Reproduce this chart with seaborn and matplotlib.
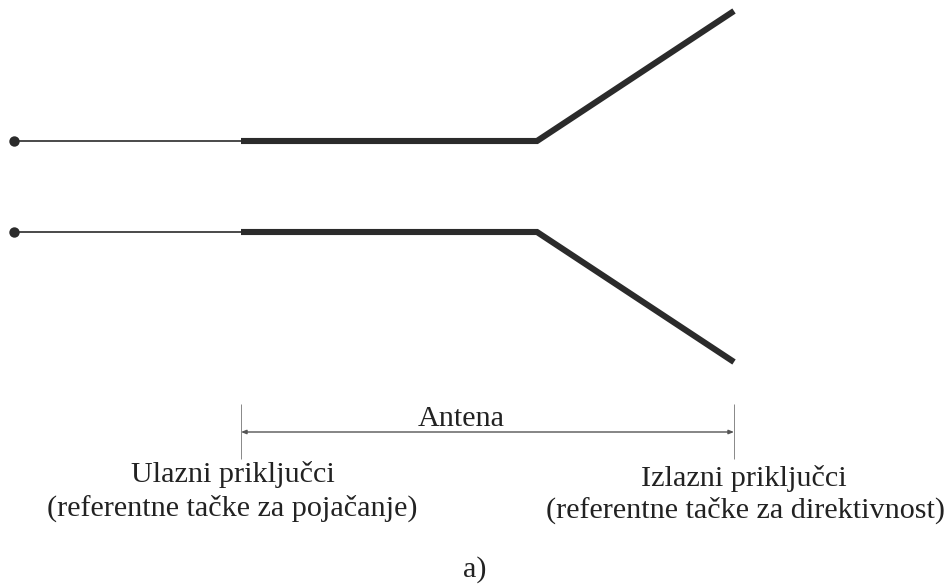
import matplotlib
matplotlib.use("Agg")
import matplotlib.pyplot as plt
import pandas as pd
import seaborn as sns

# Diagram geometry (pixel coordinates of the reference)
lead_x = [14, 241]
upper_y = [141, 141]
lower_y = [232, 232]
upper_arm_x = [241, 537, 734]
upper_arm_y = [141, 141, 11]
lower_arm_x = [241, 537, 734]
lower_arm_y = [232, 232, 362]
terminal_x = [14, 14]
terminal_y = [141, 232]
bracket_left_x = [241, 241]
bracket_right_x = [734, 734]
bracket_y = [404, 459]
dimension_x = [241, 734]
dimension_y = 432

labels = ["Antena", "Ulazni priključci", "(referentne tačke za pojačanje)",
          "Izlazni priključci", "(referentne tačke za direktivnost)", "a)"]
label_x = [461, 233, 232.5, 744, 745, 475]
label_y = [419, 475, 508, 479, 510, 570]

INK = "#2b2b2b"

sns.set_theme(style="white")
plt.rcParams["font.family"] = ["Liberation Serif", "DejaVu Serif"]

fig, ax = plt.subplots(figsize=(9.5, 5.84), dpi=100)
fig.subplots_adjust(0, 0, 1, 1)


def draw(x, y, lw, color=INK):
    frame = pd.DataFrame({"x": x, "y": y})
    sns.lineplot(data=frame, x="x", y="y", ax=ax, color=color, linewidth=lw,
                 sort=False, estimator=None, solid_capstyle="butt",
                 solid_joinstyle="miter", legend=False)


draw(lead_x, upper_y, 1.2)
draw(lead_x, lower_y, 1.2)
draw(upper_arm_x, upper_arm_y, 4.4)
draw(lower_arm_x, lower_arm_y, 4.4)
draw(bracket_left_x, bracket_y, 0.7, "#888888")
draw(bracket_right_x, bracket_y, 0.7, "#888888")

sns.scatterplot(x=terminal_x, y=terminal_y, ax=ax, s=56, color=INK,
                linewidth=0, legend=False)

ax.annotate("", xy=(dimension_x[0], dimension_y), xytext=(dimension_x[1], dimension_y),
            arrowprops=dict(arrowstyle="<|-|>,head_length=0.25,head_width=0.1",
                            color="#555555", lw=1.0, shrinkA=0, shrinkB=0))

for text, x, y in zip(labels, label_x, label_y):
    ax.text(x, y, text, ha="center", va="center", fontsize=21.7, color="#222222")

ax.set_xlim(0, 950)
ax.set_ylim(584, 0)
ax.set_xlabel("")
ax.set_ylabel("")
ax.axis("off")
fig.savefig("out.png", dpi=100, facecolor="white")
